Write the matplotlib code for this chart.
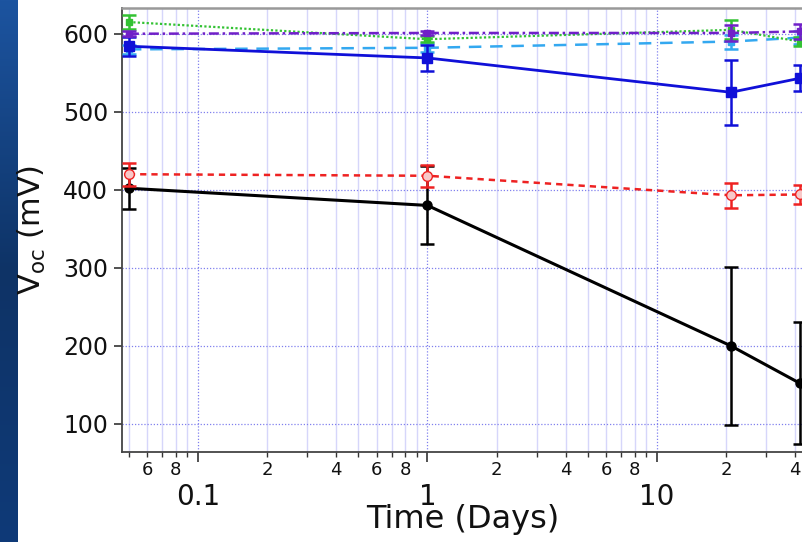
import numpy as np
import matplotlib
matplotlib.use("Agg")
import matplotlib.pyplot as plt
from matplotlib.ticker import LogLocator, FuncFormatter
from matplotlib.colors import LinearSegmentedColormap

# time in days
days = [0.05, 1, 21, 42]

# Voc (mV) and error for each sample
black_v = [402, 380, 200, 152]
black_e = [26, 50, 101, 78]
red_v = [420, 418, 393, 394]
red_e = [15, 14, 16, 12]
cyan_v = [580, 582, 590, 595]
cyan_e = [6, 6, 9, 8]
blue_v = [584, 569, 525, 543]
blue_e = [12, 17, 42, 17]
green_v = [615, 593, 605, 590]
green_e = [9, 4, 12, 6]
purple_v = [600, 601, 601, 603]
purple_e = [3, 3, 10, 10]

fig = plt.figure(figsize=(8.02, 5.42), dpi=100)
fig.patch.set_facecolor("white")

# dark blue strip on the left edge (slide background)
bg = fig.add_axes([0, 0, 18 / 802, 1])
grad = np.linspace(0, 1, 256).reshape(-1, 1)
cmap = LinearSegmentedColormap.from_list("slide", ["#1c54a0", "#0e3366", "#0f3a78"])
bg.imshow(grad, aspect="auto", cmap=cmap)
bg.axis("off")

ax = fig.add_axes([122 / 802, 90 / 542, 740 / 802, 444 / 542])

ax.errorbar(days, black_v, yerr=black_e, color="black", lw=2.2, marker="o", ms=6.5,
            capsize=5, elinewidth=1.8, capthick=1.8, zorder=3)
ax.errorbar(days, red_v, yerr=red_e, color="#ee2222", lw=1.8, ls=(0, (2.5, 2)), marker="o",
            ms=7, mfc="#f8c8c8", mec="#ee2222", capsize=5, elinewidth=1.8, capthick=1.8, zorder=4)
ax.errorbar(days, cyan_v, yerr=cyan_e, color="#33a8f0", lw=1.8, ls=(0, (5, 3.5)), marker="s",
            ms=5, capsize=5, elinewidth=1.8, capthick=1.8, zorder=4)
ax.errorbar(days, blue_v, yerr=blue_e, color="#1010d8", lw=2, marker="s", ms=7,
            capsize=5, elinewidth=1.8, capthick=1.8, zorder=5)
ax.errorbar(days, green_v, yerr=green_e, color="#33c233", lw=1.6, ls=(0, (1, 1)), marker="s",
            ms=5, capsize=5, elinewidth=1.8, capthick=1.8, zorder=5)
ax.errorbar(days, purple_v, yerr=purple_e, color="#7020c8", lw=1.8, ls=(0, (4, 1.5, 1, 1.5)),
            marker="s", ms=5, capsize=5, elinewidth=1.8, capthick=1.8, zorder=6)

ax.set_xscale("log")
ax.set_xlim(10 ** -1.331, 10 ** 1.8934)
ax.set_ylim(64, 633)

ax.xaxis.set_major_locator(LogLocator(base=10, numticks=10))
ax.xaxis.set_major_formatter(FuncFormatter(lambda v, p: {0.1: "0.1", 1: "1", 10: "10"}.get(round(v, 3), "")))
ax.xaxis.set_minor_locator(LogLocator(base=10, subs=[2, 3, 4, 5, 6, 7, 8, 9], numticks=20))


def minor_fmt(v, p):
    m = v / 10 ** np.floor(np.log10(v) + 1e-9)
    m = int(round(m))
    return str(m) if m in (2, 4, 6, 8) else ""


ax.xaxis.set_minor_formatter(FuncFormatter(minor_fmt))
ax.set_yticks([100, 200, 300, 400, 500, 600])

ax.tick_params(axis="x", which="major", direction="out", length=7, width=1.2,
               labelsize=20, pad=15, colors="#333333", labelcolor="#111111")
ax.tick_params(axis="x", which="minor", direction="out", length=3.5, width=1,
               labelsize=13, pad=3, colors="#333333", labelcolor="#111111")
ax.tick_params(axis="y", which="major", direction="out", length=6, width=1.2,
               labelsize=17, pad=4, colors="#333333", labelcolor="#111111")

ax.grid(True, which="major", axis="x", color="#8080ee", ls=(0, (1, 1.5)), lw=0.9)
ax.grid(True, which="minor", axis="x", color="#d6d6fa", ls="-", lw=1)
ax.grid(True, which="major", axis="y", color="#8080ee", ls=(0, (1, 1.5)), lw=0.9)
ax.set_axisbelow(True)

for s in ["left", "bottom"]:
    ax.spines[s].set_color("#444444")
    ax.spines[s].set_linewidth(1.3)
ax.spines["top"].set_color("#999999")
ax.spines["top"].set_linewidth(1.8)
ax.spines["right"].set_visible(False)

ax.set_xlabel("Time (Days)", fontsize=23, color="#111111")
ax.xaxis.set_label_coords((463 - 122) / 740, -(504 - 452) / 444)
ax.set_ylabel(r"V$_{\mathregular{oc}}$ (mV)", fontsize=22, color="#111111")
ax.yaxis.set_label_coords(-(122 - 48) / 740, 0.5)

fig.savefig("out.png", dpi=100)
